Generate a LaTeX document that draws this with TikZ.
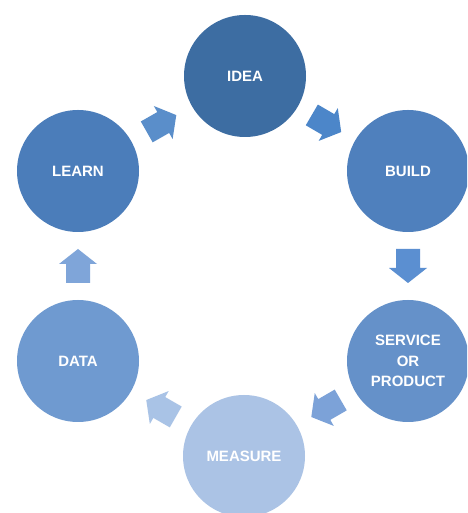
\documentclass[tikz,border=0pt]{standalone}
\usepackage{fontspec}
\setmainfont{Liberation Sans}
\usetikzlibrary{calc}
\definecolor{cidea}{HTML}{3D6DA2}
\definecolor{clearn}{HTML}{4B7DBA}
\definecolor{cbuild}{HTML}{4F80BD}
\definecolor{cserv}{HTML}{6591C9}
\definecolor{cdata}{HTML}{6F9AD0}
\definecolor{cmeas}{HTML}{ABC3E5}
\definecolor{aone}{HTML}{5A8ECA}
\definecolor{atwo}{HTML}{4C86C9}
\definecolor{athree}{HTML}{5B8FD1}
\definecolor{afour}{HTML}{7CA2D8}
\definecolor{afive}{HTML}{A9C3E6}
\definecolor{asix}{HTML}{7FA5D9}
\tikzset{
  stage/.style={circle, minimum size=122pt, inner sep=0pt, text=white,
    font=\fontsize{15}{20.5}\selectfont\bfseries, align=center},
}
\newcommand\blockarrow[3]{%
  \pgfmathanglebetweenpoints{\pgfpointanchor{#1}{center}}{\pgfpointanchor{#2}{center}}%
  \let\myang\pgfmathresult
  \begin{scope}[shift={($(#1)!0.5!(#2)$)}, rotate=\myang]
    \fill[#3] (-17pt,-12pt) -- (2pt,-12pt) -- (2pt,-19pt) -- (17pt,0pt)
      -- (2pt,19pt) -- (2pt,12pt) -- (-17pt,12pt) -- cycle;
  \end{scope}}
\begin{document}
\begin{tikzpicture}[x=1pt,y=1pt]
  \clip (0,0) rectangle (467,513);
  \fill[white] (0,0) rectangle (467,513);
  \node[stage, fill=cidea] (idea) at (245,437) {IDEA};
  \node[stage, fill=cbuild] (build) at (408,342) {BUILD};
  \node[stage, fill=cserv] (serv) at (408,152) {SERVICE\\OR\\PRODUCT};
  \node[stage, fill=cmeas] (meas) at (244,57) {MEASURE};
  \node[stage, fill=cdata] (data) at (78,152) {DATA};
  \node[stage, fill=clearn] (learn) at (78,342) {LEARN};
  \blockarrow{learn}{idea}{aone}
  \blockarrow{idea}{build}{atwo}
  \blockarrow{build}{serv}{athree}
  \blockarrow{serv}{meas}{afour}
  \blockarrow{meas}{data}{afive}
  \blockarrow{data}{learn}{asix}
\end{tikzpicture}
\end{document}
